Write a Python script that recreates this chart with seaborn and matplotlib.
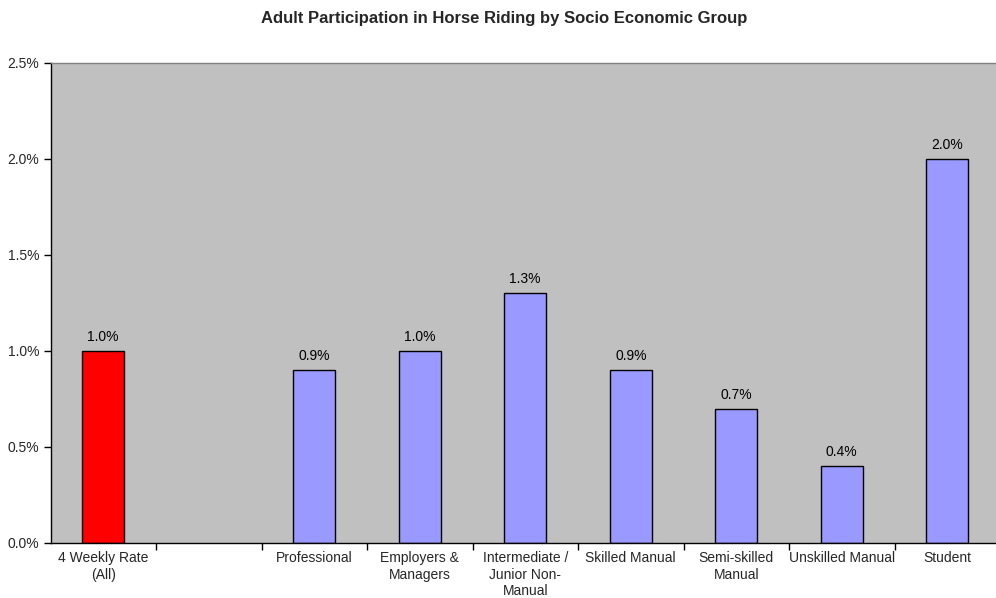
import numpy as np
import pandas as pd
import matplotlib
matplotlib.use("Agg")
import matplotlib.pyplot as plt
import seaborn as sns
from matplotlib.ticker import FixedLocator, FuncFormatter

sns.set_theme(style="white")
plt.rcParams["font.family"] = ["Liberation Sans", "DejaVu Sans"]

# Category slots (one blank slot separates the overall rate from the groups)
categories = ["4 Weekly Rate\n(All)", " ", "Professional", "Employers &\nManagers",
              "Intermediate /\nJunior Non-\nManual", "Skilled Manual",
              "Semi-skilled\nManual", "Unskilled Manual", "Student"]
rates_pct = [1.0, np.nan, 0.9, 1.0, 1.3, 0.9, 0.7, 0.4, 2.0]
bar_colors = ["#FF0000", "#9999FF", "#9999FF", "#9999FF", "#9999FF",
              "#9999FF", "#9999FF", "#9999FF", "#9999FF"]
y_ticks_pct = [0.0, 0.5, 1.0, 1.5, 2.0, 2.5]

df = pd.DataFrame({"group": categories, "rate": rates_pct})

fig = plt.figure(figsize=(9.96, 5.98), dpi=100)
W, H = 996, 598
left, right, top, bottom = 50.5, 1000.0, 63.0, 543.0
ax = fig.add_axes([left / W, (H - bottom) / H, (right - left) / W, (bottom - top) / H])

sns.barplot(data=df, x="group", y="rate", hue="group", order=categories,
            hue_order=categories, palette=dict(zip(categories, bar_colors)),
            width=0.4, edgecolor="black", linewidth=1.0, legend=False,
            saturation=1.0, errorbar=None, ax=ax)

ax.set_facecolor("#C0C0C0")
ax.set_xlim(-0.5, len(categories) - 0.5)
ax.set_ylim(0, 2.5)

# Value labels
for container in ax.containers:
    labels = [("" if np.isnan(v) else f"{v:.1f}%") for v in container.datavalues]
    ax.bar_label(container, labels=labels, padding=5, fontsize=10, color="black")

# Y axis
ax.yaxis.set_major_locator(FixedLocator(y_ticks_pct))
ax.yaxis.set_major_formatter(FuncFormatter(lambda v, _: f"{v:.1f}%"))
ax.tick_params(axis="y", which="major", direction="out", length=5, width=1,
               color="black", labelsize=10, pad=3, left=True)

# X axis: labels centered on slots, tick marks between slots
ax.set_xticks(range(len(categories)))
ax.set_xticklabels(categories, fontsize=10, linespacing=1.22, va="top")
ax.set_xticks(np.arange(0.5, len(categories) - 0.5, 1.0), minor=True)
ax.tick_params(axis="x", which="major", length=0, pad=6)
ax.tick_params(axis="x", which="minor", direction="out", length=5, width=1,
               color="black", bottom=True)

ax.set_xlabel("")
ax.set_ylabel("")

for side in ["left", "bottom"]:
    ax.spines[side].set_color("black")
    ax.spines[side].set_linewidth(1.0)
for side in ["top", "right"]:
    ax.spines[side].set_color("#808080")
    ax.spines[side].set_linewidth(1.0)

fig.text(504 / W, 1 - 18 / H, "Adult Participation in Horse Riding by Socio Economic Group",
         ha="center", va="center", fontsize=12, fontweight="bold")

fig.savefig("out.png", dpi=100)
